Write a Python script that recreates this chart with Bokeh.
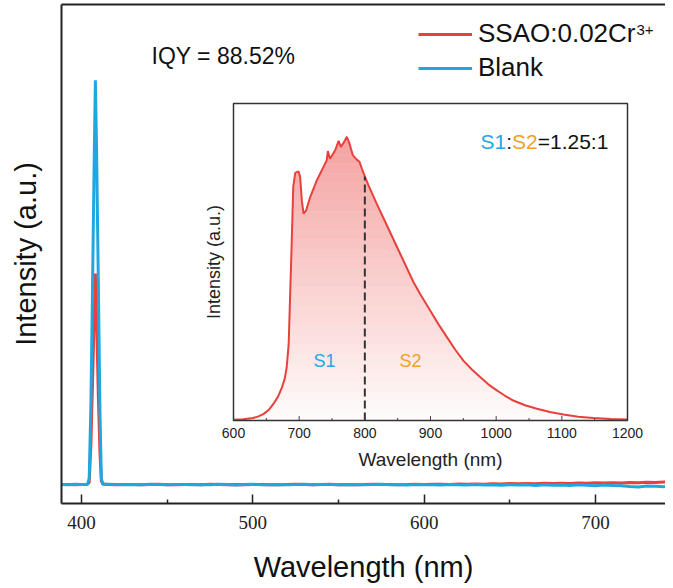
import numpy as np
from bokeh.plotting import figure
from bokeh.models import Range1d, LinearAxis, FixedTicker, Legend, LegendItem
from bokeh.core.properties import value
from bokeh.embed import file_html
from bokeh.resources import INLINE

# ---------------- data ----------------
main_major_ticks = [400, 500, 600, 700]
main_minor_ticks = [450, 550, 650, 750]

main_wl = [388, 392, 396, 400, 403.5, 404.5, 405.5, 406.5, 407.5, 408.1, 408.8, 409.8, 410.8, 411.6, 412.5,
           415, 420, 425, 430, 435, 440, 445, 450, 455, 460, 465, 470, 475, 480, 485, 490, 495, 500,
           505, 510, 515, 520, 525, 530, 535, 540, 545, 550, 555, 560, 565, 570, 575, 580, 585, 590, 595, 600,
           605, 610, 615, 620, 625, 630, 635, 640, 645, 650, 655, 660, 665, 670, 675, 680, 685, 690, 695, 700,
           705, 710, 715, 720, 725, 730, 735, 740, 745]

blank_int = [3.82, 3.78, 3.85, 3.80, 3.84, 5.0, 20.0, 45.0, 71.0, 84.8, 71.0, 45.0, 18.0, 5.0, 3.85,
             3.85, 3.80, 3.75, 3.82, 3.78, 3.86, 3.80, 3.74, 3.79, 3.83, 3.77, 3.81, 3.76, 3.84, 3.79, 3.73,
             3.80, 3.85, 3.78, 3.74, 3.82, 3.77, 3.80, 3.86, 3.75, 3.79, 3.83, 3.76, 3.81, 3.78, 3.74, 3.80,
             3.84, 3.77, 3.79, 3.72, 3.81, 3.75,
             3.78, 3.70, 3.82, 3.74, 3.69, 3.80, 3.72, 3.76, 3.66, 3.78, 3.70, 3.74, 3.62, 3.76, 3.68, 3.72,
             3.60, 3.74, 3.66, 3.58, 3.70, 3.62, 3.55, 3.40, 3.30, 3.52, 3.45, 3.38, 3.50]

sample_int = [3.80, 3.82, 3.78, 3.83, 3.86, 4.2, 12.0, 25.0, 38.5, 46.1, 37.5, 22.0, 10.0, 4.5, 3.9,
              3.80, 3.76, 3.83, 3.79, 3.74, 3.81, 3.85, 3.78, 3.75, 3.82, 3.80, 3.76, 3.84, 3.79, 3.77, 3.82,
              3.75, 3.80, 3.83, 3.78, 3.76, 3.81, 3.84, 3.79, 3.77, 3.80, 3.86, 3.78, 3.82, 3.76, 3.80, 3.85,
              3.79, 3.83, 3.77, 3.81, 3.86, 3.80,
              3.84, 3.88, 3.82, 3.90, 3.86, 3.93, 3.88, 3.96, 3.92, 3.99, 3.94, 4.02, 3.97, 4.05, 4.00, 4.08,
              4.03, 4.12, 4.06, 4.15, 4.10, 4.18, 4.13, 4.22, 4.16, 4.26, 4.20, 4.30, 4.25]

inset_major_ticks = [600, 700, 800, 900, 1000, 1100, 1200]
inset_minor_ticks = [650, 750, 850, 950, 1050, 1150]

inset_wl = [600, 615, 630, 638, 646, 654, 661, 668, 674, 678, 681, 684, 686, 687.5, 689, 691, 694, 699,
            701.5, 704, 706.6, 710.7, 716.8, 727, 737, 742, 743.7, 747, 755, 760, 763.5, 768.5, 772.6,
            776.6, 781.7, 787.8, 791.9, 795.4, 800, 805.6, 818, 833.5, 853.8, 874, 884, 899.5, 912, 925,
            937.5, 950, 963, 975.6, 988, 1001, 1013.5, 1026, 1044, 1062, 1082, 1102.5, 1125, 1148, 1175, 1200]
inset_int = [0.2, 0.4, 0.8, 1.3, 2.1, 3.4, 5.3, 7.6, 10.5, 13.2, 16.8, 24.0, 37.9, 48.0, 58.9, 73.7, 78.1,
             78.6, 76.8, 69.5, 65.3, 66.3, 70.5, 75.8, 80.0, 82.1, 85.0, 82.6, 85.3, 88.2, 86.3, 87.9, 89.5,
             87.4, 83.7, 82.3, 81.6, 79.5, 77.0, 74.2, 68.4, 61.6, 52.6, 43.7, 40.0, 34.7, 30.4, 26.3,
             22.4, 18.9, 16.1, 13.7, 11.4, 9.5, 7.8, 6.3, 4.8, 3.7, 2.7, 1.9, 1.2, 0.8, 0.5, 0.3]
divider_wl = 800

series_labels = ["SSAO:0.02Cr", "Blank"]
iqy_text = "IQY = 88.52%"

# ---------------- styling / layout ----------------
RED = "#e8413c"
BLUE = "#1fa8e0"
S1_COL = "#29a4e6"
S2_COL = "#f0a02c"
SANS = "Liberation Sans"
SERIF = "Liberation Serif"

W, H = 665, 586
FR_L, FR_R, FR_T, FR_B = 61, 665, 4, 503          # frame in picture pixels
MX0, MX1 = 388.33, 740.86
MY0, MY1 = 0.0, 100.0
IB_L, IB_R, IB_T, IB_B = 233, 627, 103, 420       # inset box in picture pixels
ix_per_px = (1200 - 600) / (IB_R - IB_L)
iy_per_px = 100 / (IB_B - IB_T)
IX0 = 600 - (IB_L - FR_L) * ix_per_px
IX1 = 1200 + (FR_R - IB_R) * ix_per_px
IY0 = 0 - (FR_B - IB_B) * iy_per_px
IY1 = 100 + (IB_T - FR_T) * iy_per_px


def mx(px):
    return MX0 + (px - FR_L) * (MX1 - MX0) / (FR_R - FR_L)


def my(py):
    return MY0 + (FR_B - py) * (MY1 - MY0) / (FR_B - FR_T)


def ix(px):
    return IX0 + (px - FR_L) * (IX1 - IX0) / (FR_R - FR_L)


def iy(py):
    return IY0 + (FR_B - py) * (IY1 - IY0) / (FR_B - FR_T)


p = figure(width=W, height=H, output_backend="svg", toolbar_location=None,
           x_range=Range1d(MX0, MX1), y_range=Range1d(MY0, MY1),
           min_border_left=FR_L, min_border_right=W - FR_R, min_border_top=FR_T,
           min_border_bottom=H - FR_B)
p.outline_line_color = None
p.grid.visible = False
p.background_fill_color = "white"
p.border_fill_color = "white"
p.extra_x_ranges = {"ix": Range1d(IX0, IX1)}
p.extra_y_ranges = {"iy": Range1d(IY0, IY1)}

# main axes
xa = p.xaxis[0]
xa.ticker = FixedTicker(ticks=main_major_ticks, minor_ticks=main_minor_ticks)
xa.major_tick_in = 9
xa.major_tick_out = 0
xa.minor_tick_in = 4
xa.minor_tick_out = 0
xa.axis_line_width = 2
xa.axis_line_color = "#222222"
xa.major_tick_line_width = 1.5
xa.minor_tick_line_width = 1.5
xa.major_tick_line_color = "#222222"
xa.minor_tick_line_color = "#222222"
xa.major_label_text_font = SERIF
xa.major_label_text_font_size = "19px"
xa.major_label_text_color = "#222222"
xa.major_label_standoff = 12
xa.axis_label = "Wavelength (nm)"
xa.axis_label_text_font = SANS
xa.axis_label_text_font_size = "29px"
xa.axis_label_text_font_style = "normal"
xa.axis_label_text_color = "#111111"
xa.axis_label_standoff = 19

ya = p.yaxis[0]
ya.ticker = FixedTicker(ticks=[])
ya.axis_line_width = 2
ya.axis_line_color = "#222222"
ya.major_tick_line_color = None
ya.minor_tick_line_color = None
ya.axis_label = "Intensity (a.u.)"
ya.axis_label_text_font = SANS
ya.axis_label_text_font_size = "29px"
ya.axis_label_text_font_style = "normal"
ya.axis_label_text_color = "#111111"
ya.axis_label_standoff = 20

top = LinearAxis(ticker=FixedTicker(ticks=[]), axis_line_width=2, axis_line_color="#222222",
                 major_tick_line_color=None, minor_tick_line_color=None)
p.add_layout(top, "above")

# main spectra
r_red = p.line(main_wl, sample_int, line_color=RED, line_width=3)
r_blue = p.line(main_wl, blank_int, line_color=BLUE, line_width=3)

legend = Legend(items=[LegendItem(label=series_labels[0], renderers=[r_red]),
                       LegendItem(label=series_labels[1], renderers=[r_blue])],
                location=(357, 420), padding=0, margin=0, spacing=3,
                glyph_width=54, glyph_height=28, label_standoff=6,
                label_text_font=SANS, label_text_font_size="26px", label_text_color="#111111",
                border_line_color=None, background_fill_alpha=0)
p.add_layout(legend, "center")

p.text(x=[mx(636)], y=[my(29)], text=["3+"], text_font=value(SANS), text_font_size="15px",
       text_color="#111111", text_align="left", text_baseline="alphabetic")
p.text(x=[mx(151)], y=[my(55)], text=[iqy_text], text_font=value(SANS), text_font_size="23px",
       text_color="#111111", text_align="left", text_baseline="alphabetic")

# ---------------- inset ----------------
kw = dict(x_range_name="ix", y_range_name="iy")
p.quad(left=[600], right=[1200], bottom=[0], top=[100], fill_color="white", line_color=None, **kw)

wl = np.array(inset_wl, dtype=float)
yi = np.array(inset_int, dtype=float)
nb = 30
top_level = 90.0
levels = np.linspace(0, top_level, nb + 1)
for k in range(nb):
    lo = np.minimum(yi, levels[k])
    hi = np.minimum(yi, levels[k + 1])
    a = 0.02 + 0.47 * (levels[k] + levels[k + 1]) / 2 / top_level
    p.varea(x=wl, y1=lo, y2=hi, fill_color=RED, fill_alpha=a, **kw)

p.line(inset_wl, inset_int, line_color=RED, line_width=2, **kw)

div_val = inset_int[inset_wl.index(divider_wl)]
p.segment(x0=[divider_wl], y0=[0], x1=[divider_wl], y1=[div_val], line_color="#333333",
          line_width=2, line_dash="8 4", **kw)

# inset ticks
maj_len = 4.5 * iy_per_px
min_len = 2.5 * iy_per_px
p.segment(x0=inset_major_ticks, y0=[0] * len(inset_major_ticks), x1=inset_major_ticks,
          y1=[maj_len] * len(inset_major_ticks), line_color="#444444", line_width=1, **kw)
p.segment(x0=inset_minor_ticks, y0=[0] * len(inset_minor_ticks), x1=inset_minor_ticks,
          y1=[min_len] * len(inset_minor_ticks), line_color="#444444", line_width=1, **kw)
p.quad(left=[600], right=[1200], bottom=[0], top=[100], fill_color=None, line_color="#333333",
       line_width=1.5, **kw)

p.text(x=inset_major_ticks, y=[iy(432)] * len(inset_major_ticks), text=[str(t) for t in inset_major_ticks],
       text_font=value(SANS), text_font_size="14px", text_color="#222222", text_align="center",
       text_baseline="middle", **kw)
p.text(x=[ix((IB_L + IB_R) / 2)], y=[iy(459)], text=["Wavelength (nm)"], text_font=value(SANS),
       text_font_size="19px", text_color="#222222", text_align="center", text_baseline="middle", **kw)
p.text(x=[ix(213)], y=[iy((IB_T + IB_B) / 2)], text=["Intensity (a.u.)"], text_font=value(SANS),
       text_font_size="18px", text_color="#222222", text_align="center", text_baseline="middle",
       angle=np.pi / 2, **kw)

p.text(x=[ix(324), ix(410)], y=[iy(360), iy(360)], text=["S1", "S2"], text_color=[S1_COL, S2_COL],
       text_font=value(SANS), text_font_size="18px", text_align="center", text_baseline="middle", **kw)

# ratio text composed of coloured pieces
fs = 21
pieces = ["S1", ":", "S2", "=1.25:1"]
cols = [S1_COL, "#222222", S2_COL, "#111111"]
em = {"S": 0.667, "1": 0.556, ":": 0.278, "2": 0.556, "=": 0.584, ".": 0.278, "5": 0.556}
xs = []
cur = 480.0
for pc in pieces:
    xs.append(ix(cur))
    cur += sum(em[c] for c in pc) * fs
p.text(x=xs, y=[iy(141)] * 4, text=pieces, text_color=cols, text_font=value(SANS),
       text_font_size=f"{fs}px", text_align="left", text_baseline="alphabetic", **kw)

open("out.html", "w").write(file_html(p, INLINE))
